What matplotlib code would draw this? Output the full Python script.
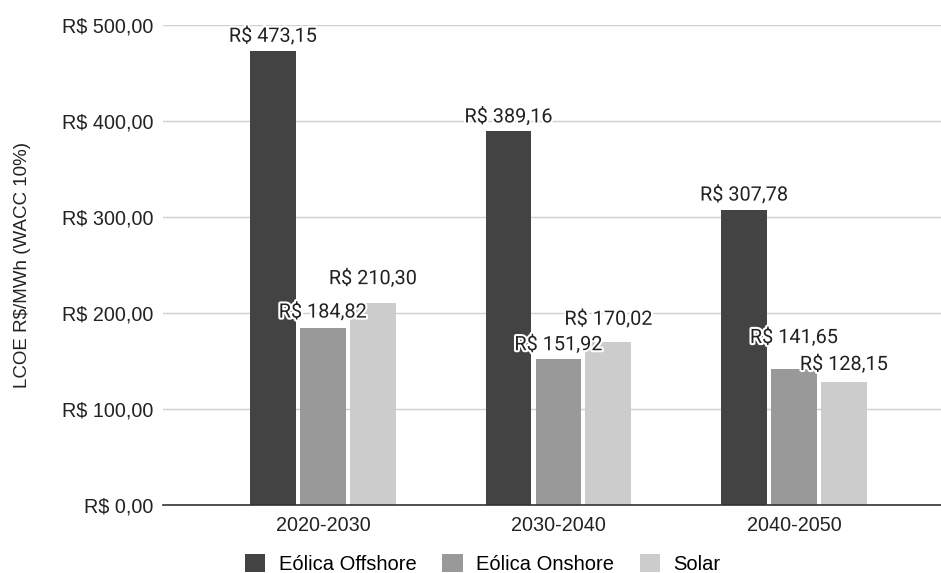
import numpy as np
import matplotlib.pyplot as plt
import matplotlib.patheffects as pe

periodos = ['2020-2030', '2030-2040', '2040-2050']
offshore = [473.15, 389.16, 307.78]
onshore = [184.82, 151.92, 141.65]
solar = [210.30, 170.02, 128.15]

series = [
    ('Eólica Offshore', offshore, '#434343'),
    ('Eólica Onshore', onshore, '#999999'),
    ('Solar', solar, '#cccccc'),
]
# quanto cada rótulo sobe acima da barra (pixels), para não se sobreporem
elevacao = [
    [15, 15, 15],
    [16, 15, 32],
    [25, 23, 18],
]

def brl(v):
    return 'R$ ' + f'{v:,.2f}'.replace(',', 'X').replace('.', ',').replace('X', '.')

fig = plt.figure(figsize=(9.41, 5.73), dpi=100)
ax = fig.add_axes([0.1732, 0.1187, 0.8268, 0.8377])

x = np.arange(len(periodos))
largura = 0.195
passo = 0.212

for i, (nome, valores, cor) in enumerate(series):
    pos = x + (i - 1) * passo
    ax.bar(pos, valores, width=largura, color=cor, label=nome, zorder=3)
    for j, v in enumerate(valores):
        ax.annotate(brl(v), (pos[j], v), xytext=(0, elevacao[i][j]),
                    textcoords='offset pixels', ha='center', va='center',
                    fontsize=14.3, family='Roboto', color='#222222', zorder=5,
                    path_effects=[pe.withStroke(linewidth=3, foreground='white')])

ax.set_ylim(0, 500)
ax.set_xlim(-0.679, 2.624)
ax.set_yticks(np.arange(0, 501, 100))
ax.set_yticklabels([brl(v) for v in np.arange(0, 501, 100)],
                   family='Liberation Sans', fontsize=14.2, color='#222222')
ax.set_xticks(x)
ax.set_xticklabels(periodos, family='Liberation Sans', fontsize=14.2, color='#222222')
ax.tick_params(axis='both', length=0)
ax.tick_params(axis='y', pad=7)
ax.tick_params(axis='x', pad=8)

ax.grid(axis='y', color='#d0d0d0', linewidth=1, zorder=0)
for s in ['top', 'right', 'left']:
    ax.spines[s].set_visible(False)
ax.spines['bottom'].set_color('#333333')
ax.spines['bottom'].set_linewidth(1.2)
ax.spines['bottom'].set_zorder(4)

fig.text(0.024, 0.538, 'LCOE R$/MWh (WACC 10%)', rotation=90, ha='center',
         va='center', family='Liberation Sans', fontsize=13.5, color='#222222')

fig.legend(loc='center', bbox_to_anchor=(0.513, 0.016), ncol=3, frameon=False,
           prop={'family': 'Liberation Sans', 'size': 14.5},
           handlelength=1.0, handleheight=1.0, handletextpad=0.65,
           columnspacing=1.3, borderpad=0)

fig.savefig('out.png', dpi=100)
